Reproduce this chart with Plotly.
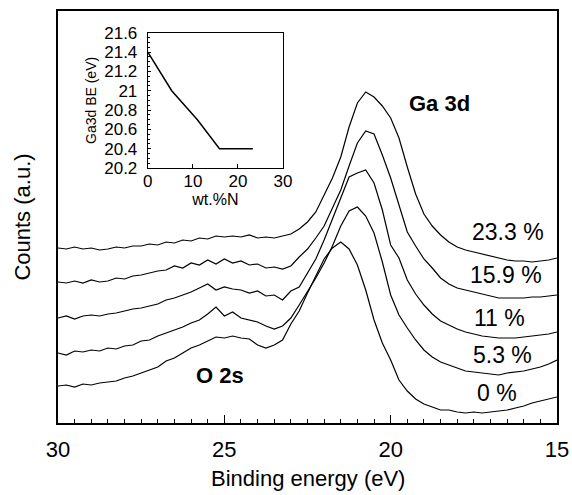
import plotly.graph_objects as go

# ---------------- data ----------------
energy = [30.0, 29.75, 29.5, 29.25, 29.0, 28.75, 28.5, 28.25, 28.0, 27.75,
          27.5, 27.25, 27.0, 26.75, 26.5, 26.25, 26.0, 25.75, 25.5, 25.25,
          25.0, 24.75, 24.5, 24.25, 24.0, 23.75, 23.5, 23.25, 23.0, 22.75,
          22.5, 22.25, 22.0, 21.75, 21.5, 21.25, 21.0, 20.75, 20.5, 20.25,
          20.0, 19.75, 19.5, 19.25, 19.0, 18.75, 18.5, 18.25, 18.0, 17.75,
          17.5, 17.25, 17.0, 16.75, 16.5, 16.25, 16.0, 15.75, 15.5, 15.25,
          15.0]

counts_0 = [37, 38, 36, 39, 38, 40, 41, 42, 45, 47,
            50, 53, 56, 62, 65, 70, 75, 78, 82, 86,
            85, 87, 85, 84, 78, 75, 78, 83, 99, 112,
            130, 147, 164, 175, 181, 174, 158, 133, 103, 80,
            63, 43, 32, 24, 19, 16, 13, 13, 11, 10,
            11, 10, 11, 12, 13, 15, 17, 20, 22, 24,
            26]
counts_5_3 = [70, 68, 72, 71, 73, 72, 75, 74, 77, 78,
              82, 83, 87, 90, 93, 96, 100, 103, 109, 116,
              107, 111, 105, 103, 101, 97, 94, 97, 105, 118,
              131, 145, 160, 177, 197, 212, 216, 207, 190, 161,
              128, 108, 95, 83, 73, 66, 61, 58, 55, 52,
              51, 50, 49, 48, 50, 51, 52, 54, 56, 59,
              63]
counts_11 = [105, 107, 104, 107, 108, 107, 109, 110, 112, 114,
             115, 117, 119, 123, 125, 128, 131, 135, 139, 133,
             136, 134, 133, 130, 132, 127, 128, 123, 132, 136,
             150, 164, 183, 204, 226, 246, 250, 253, 240, 213,
             178, 165, 143, 129, 118, 109, 102, 98, 94, 91,
             89, 87, 86, 85, 85, 85, 86, 87, 88, 89,
             91]
counts_15_9 = [141, 140, 142, 140, 143, 141, 142, 145, 144, 147,
               148, 150, 152, 153, 157, 155, 160, 158, 163, 159,
               164, 160, 162, 158, 159, 155, 156, 154, 157, 166,
               174, 185, 197, 215, 233, 257, 280, 292, 289, 268,
               245, 218, 191, 177, 164, 155, 145, 139, 135, 133,
               131, 129, 127, 125, 125, 125, 125, 126, 126, 127,
               128]
counts_23_3 = [175, 174, 176, 174, 175, 173, 174, 176, 175, 177,
               177, 179, 178, 181, 180, 183, 182, 185, 184, 187,
               186, 187, 186, 188, 185, 186, 185, 187, 189, 194,
               201, 211, 228, 245, 266, 296, 320, 331, 326, 317,
               305, 285, 256, 229, 209, 197, 188, 181, 176, 173,
               171, 169, 167, 165, 163, 162, 162, 161, 162, 163,
               165]

series = [counts_0, counts_5_3, counts_11, counts_15_9, counts_23_3]
labels = ["0 %", "5.3 %", "11 %", "15.9 %", "23.3 %"]
label_x = [16.80, 16.65, 16.74, 16.53, 16.47]
label_y = [30, 68, 105, 148, 191]

# inset: Ga 3d binding energy vs N content
wt_N = [0, 5.3, 11, 15.9, 23.3]
ga3d_be = [21.4, 21.0, 20.7, 20.4, 20.4]
inset_yticks = [20.2, 20.4, 20.6, 20.8, 21.0, 21.2, 21.4, 21.6]
inset_yticktext = ["20.2", "20.4", "20.6", "20.8", "21", "21.2", "21.4", "21.6"]

FONT = "Liberation Sans, Arial, sans-serif"

fig = go.Figure()
for s in series:
    fig.add_trace(go.Scatter(x=energy, y=s, mode="lines",
                             line=dict(color="black", width=1.2),
                             showlegend=False, hoverinfo="skip"))

fig.add_trace(go.Scatter(x=wt_N, y=ga3d_be, mode="lines", xaxis="x2", yaxis="y2",
                         line=dict(color="black", width=1.5), showlegend=False))

for t, xx, yy in zip(labels, label_x, label_y):
    fig.add_annotation(x=xx, y=yy, text=t, showarrow=False,
                       font=dict(family=FONT, size=23, color="black"),
                       xanchor="center", yanchor="middle")

fig.add_annotation(x=18.52, y=320, text="<b>Ga 3d</b>", showarrow=False,
                   font=dict(family=FONT, size=22, color="black"))
fig.add_annotation(x=25.13, y=48, text="<b>O 2s</b>", showarrow=False,
                   font=dict(family=FONT, size=22, color="black"))

# x-axis title placed as paper annotation
fig.add_annotation(xref="paper", yref="paper", x=0.5, y=-0.1335,
                   text="Binding energy (eV)", showarrow=False,
                   xanchor="center", yanchor="middle",
                   font=dict(family=FONT, size=22, color="black"))

fig.update_layout(
    width=572, height=495,
    margin=dict(l=58, r=15, t=11, b=72, autoexpand=False),
    paper_bgcolor="white", plot_bgcolor="white",
    font=dict(family=FONT, color="black"),
    xaxis=dict(range=[30, 15], tickvals=[30, 25, 20, 15], ticks="inside",
               ticklen=8, tickwidth=1.2, tickcolor="black",
               minor=dict(dtick=0.5, ticks="inside", ticklen=4, tickwidth=1, tickcolor="black"),
               showline=True, linecolor="black", linewidth=1.5, mirror=True,
               showgrid=False, zeroline=False, automargin=False,
               tickfont=dict(size=22), ticklabelstandoff=6),
    yaxis=dict(range=[0, 412], showticklabels=False, ticks="",
               showline=True, linecolor="black", linewidth=1.5, mirror=True,
               showgrid=False, zeroline=False, automargin=False,
               title=dict(text="Counts (a.u.)", font=dict(size=22), standoff=20)),
    xaxis2=dict(domain=[0.180, 0.451], anchor="y2", range=[0, 30],
                tickvals=[0, 10, 20, 30], ticks="inside", ticklen=4, tickcolor="black",
                showline=True, linecolor="black", linewidth=1.2, mirror=True,
                showgrid=False, zeroline=False, tickfont=dict(size=17),
                ticklabelstandoff=-2, automargin=False,
                title=dict(text="wt.%N", font=dict(size=16), standoff=0)),
    yaxis2=dict(domain=[0.619, 0.947], anchor="x2", range=[20.2, 21.6],
                tickvals=inset_yticks, ticktext=inset_yticktext,
                ticks="inside", ticklen=3, tickcolor="black",
                minor=dict(dtick=0.05, ticks="inside", ticklen=2, tickcolor="black"),
                showline=True, linecolor="black", linewidth=1.2, mirror=True,
                showgrid=False, zeroline=False, tickfont=dict(size=17),
                ticklabelstandoff=6, automargin=False,
                title=dict(text="Ga3d BE (eV)", font=dict(size=14), standoff=4)),
)

fig.write_html("out.html")
